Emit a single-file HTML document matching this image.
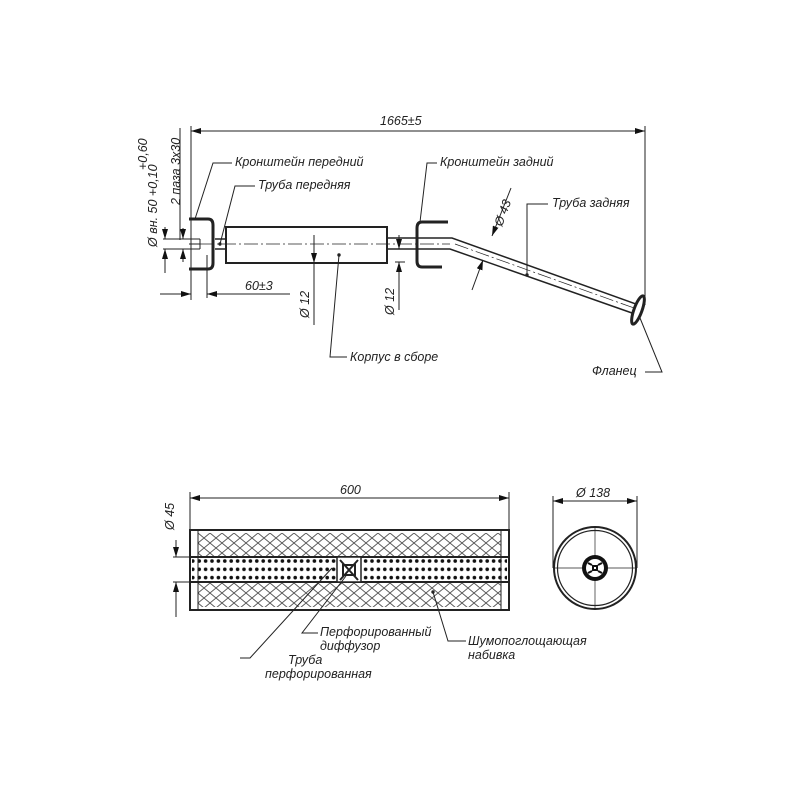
<!DOCTYPE html>
<html><head><meta charset="utf-8"><style>
html,body{margin:0;padding:0;background:#fff}
svg{display:block}
text{font-family:"Liberation Sans","DejaVu Sans",sans-serif;font-style:italic;fill:#222;font-size:12.5px}
</style></head><body>
<svg width="800" height="800" viewBox="0 0 800 800" xmlns="http://www.w3.org/2000/svg">
<defs>
<marker id="a" viewBox="0 0 10 6" refX="10" refY="3" markerWidth="10" markerHeight="6" orient="auto-start-reverse" markerUnits="userSpaceOnUse"><path d="M0,0 L10,3 L0,6 z" fill="#111"/></marker>
<pattern id="hx" x="198" y="533" width="12" height="10" patternUnits="userSpaceOnUse"><path d="M0,0 L12,10 M12,0 L0,10" stroke="#555" stroke-width="0.9"/></pattern>
<pattern id="dots" x="196" y="557" width="6.4" height="8.3" patternUnits="userSpaceOnUse"><circle cx="3.2" cy="4" r="1.8" fill="#111"/></pattern>
</defs>
<g stroke="#222" fill="none" stroke-width="1">
<line x1="191" y1="131" x2="645" y2="131" marker-start="url(#a)" marker-end="url(#a)"/>
<line x1="191" y1="126" x2="191" y2="300"/>
<line x1="645" y1="126" x2="645" y2="305"/>
<line x1="207" y1="255" x2="207" y2="298"/>
<line x1="160" y1="294" x2="191" y2="294" marker-end="url(#a)"/>
<line x1="290" y1="294" x2="207" y2="294" marker-end="url(#a)"/>
<line x1="165" y1="227" x2="165" y2="239" marker-end="url(#a)"/>
<line x1="165" y1="273" x2="165" y2="249" marker-end="url(#a)"/>
<line x1="183" y1="228" x2="183" y2="239" marker-end="url(#a)"/>
<line x1="183" y1="262" x2="183" y2="249" marker-end="url(#a)"/>
<line x1="180" y1="128" x2="180" y2="240"/>
<line x1="163" y1="239" x2="200" y2="239"/><line x1="163" y1="249" x2="200" y2="249"/>
<path d="M189,219 H208 Q213,219 213,225 V263 Q213,269 208,269 H189" stroke-width="3"/>
<line x1="189" y1="244" x2="200" y2="244"/>
<line x1="200" y1="239" x2="200" y2="249"/>
<line x1="215" y1="239" x2="226" y2="239" stroke-width="1.5"/><line x1="215" y1="249" x2="226" y2="249" stroke-width="1.5"/>
<rect x="226" y="227" width="161" height="36" stroke-width="2"/>
<line x1="200" y1="244" x2="450" y2="244" stroke-dasharray="14,3,2,3" stroke-width="0.7"/>
<path d="M387,238 H452 L636,304" stroke-width="1.5"/>
<path d="M387,249 H450 L632,313" stroke-width="1.5"/>
<path d="M455,244 L634,308" stroke-dasharray="14,3,2,3" stroke-width="0.7"/>
<ellipse cx="638" cy="310" rx="4" ry="15" transform="rotate(20 638 310)" stroke-width="3"/>
<path d="M448,222 H422 Q417,222 417,228 V261 Q417,267 422,267 H442" stroke-width="3"/>
<line x1="314" y1="235" x2="314" y2="263" marker-end="url(#a)"/>
<line x1="314" y1="325" x2="314" y2="263"/>
<line x1="399" y1="235" x2="399" y2="249" marker-end="url(#a)"/>
<line x1="399" y1="310" x2="399" y2="262" marker-end="url(#a)"/>
<line x1="395" y1="262" x2="405" y2="262"/>
<line x1="511" y1="188" x2="492" y2="236" marker-end="url(#a)"/>
<line x1="472" y1="290" x2="483" y2="260" marker-end="url(#a)"/>
<path d="M195,219 L213,163 H232"/>
<path d="M220,244 L235,186 H255"/>
<path d="M420,222 L427,163 H437"/>
<path d="M527,275 L527,204 H548"/>
<path d="M339,255 L330,357 H347"/>
<path d="M640,318 L662,372 H645"/>
<circle cx="220" cy="244" r="1.2" fill="#222"/><circle cx="339" cy="255" r="1.2" fill="#222"/><circle cx="527" cy="275" r="1.2" fill="#222"/>
<line x1="190" y1="498" x2="509" y2="498" marker-start="url(#a)" marker-end="url(#a)"/>
<line x1="190" y1="492" x2="190" y2="530"/><line x1="509" y1="492" x2="509" y2="530"/>
<rect x="198" y="533" width="303" height="24" fill="url(#hx)" stroke="none"/>
<rect x="198" y="582" width="303" height="25" fill="url(#hx)" stroke="none"/>
<rect x="192" y="557" width="315" height="25" fill="url(#dots)" stroke="none"/>
<rect x="190" y="530" width="319" height="80" stroke-width="2"/>
<line x1="198" y1="530" x2="198" y2="610"/><line x1="501" y1="530" x2="501" y2="610"/>
<line x1="190" y1="557" x2="509" y2="557" stroke-width="2"/><line x1="190" y1="582" x2="509" y2="582" stroke-width="2"/>
<rect x="337" y="557" width="24" height="25" fill="#fff" stroke-width="1.5"/>
<path d="M340,560 L358,580 M358,560 L340,580 M343,565 H355 V575 H343 z" stroke-width="2"/>
<line x1="176" y1="540" x2="176" y2="557" marker-end="url(#a)"/>
<line x1="176" y1="617" x2="176" y2="582" marker-end="url(#a)"/>
<line x1="173" y1="557" x2="190" y2="557"/><line x1="173" y1="582" x2="190" y2="582"/>
<path d="M332,568 L250,658 H240"/>
<path d="M346,576 L302,633 H318"/>
<path d="M433,592 L448,641 H466"/>
<circle cx="433" cy="592" r="1.2" fill="#222"/>
<line x1="553" y1="501" x2="637" y2="501" marker-start="url(#a)" marker-end="url(#a)"/>
<line x1="553" y1="496" x2="553" y2="568"/><line x1="637" y1="496" x2="637" y2="568"/>
<circle cx="595" cy="568" r="41" stroke-width="2"/>
<circle cx="595" cy="568" r="37.5" stroke-width="1.2"/>
<line x1="553" y1="568" x2="637" y2="568" stroke-width="0.7"/><line x1="595" y1="527" x2="595" y2="609" stroke-width="0.7"/>
<circle cx="595" cy="568" r="13" fill="#111" stroke="none"/>
<circle cx="595" cy="568" r="9" fill="#fff" stroke="none"/>
<path d="M588,563 L592,565 M602,563 L598,565 M588,573 L592,571 M602,573 L598,571" stroke="#111" stroke-width="2"/>
<rect x="592" y="565" width="6" height="6" fill="#111" stroke="none"/>
<rect x="594" y="567" width="2" height="2" fill="#fff" stroke="none"/>
</g>
<text x="380" y="125">1665±5</text>
<text x="245" y="290">60±3</text>
<text x="235" y="166">Кронштейн передний</text>
<text x="258" y="189">Труба передняя</text>
<text x="440" y="166">Кронштейн задний</text>
<text x="552" y="207">Труба задняя</text>
<text x="350" y="361">Корпус в сборе</text>
<text x="592" y="375">Фланец</text>
<text transform="translate(502,227) rotate(-70)">Ø 43</text>
<text transform="translate(309,318) rotate(-90)">Ø 12</text>
<text transform="translate(394,315) rotate(-90)">Ø 12</text>
<text transform="translate(157,247) rotate(-90)">Ø вн. 50 +0,10</text>
<text transform="translate(147,170) rotate(-90)">+0,60</text>
<text transform="translate(180,205) rotate(-90)">2 паза 3x30</text>
<text x="340" y="494">600</text>
<text x="576" y="497">Ø 138</text>
<text transform="translate(174,530) rotate(-90)">Ø 45</text>
<text x="320" y="636">Перфорированный</text>
<text x="320" y="650">диффузор</text>
<text x="288" y="664">Труба</text>
<text x="265" y="678">перфорированная</text>
<text x="468" y="645">Шумопоглощающая</text>
<text x="468" y="659">набивка</text>
</svg>
</body></html>
